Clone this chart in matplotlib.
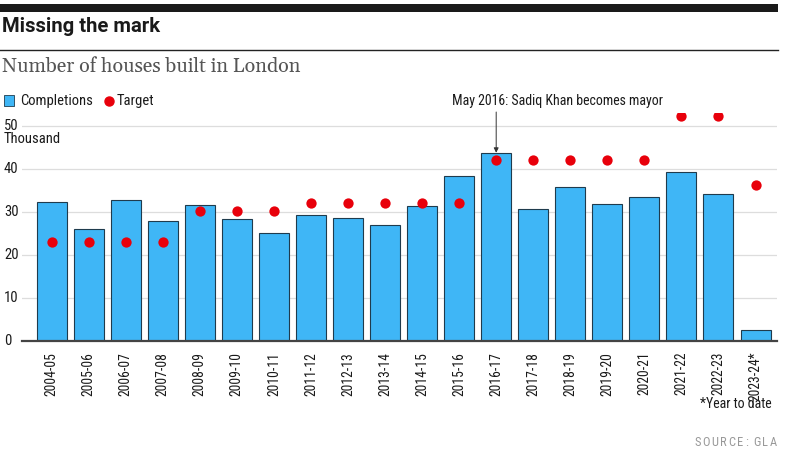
import matplotlib
matplotlib.use("Agg")
import matplotlib.pyplot as plt
from matplotlib import font_manager as fm

years = ["2004-05", "2005-06", "2006-07", "2007-08", "2008-09", "2009-10", "2010-11",
         "2011-12", "2012-13", "2013-14", "2014-15", "2015-16", "2016-17", "2017-18",
         "2018-19", "2019-20", "2020-21", "2021-22", "2022-23", "2023-24*"]
completions = [32.4, 26.0, 32.9, 28.0, 31.7, 28.3, 25.2, 29.4, 28.7, 26.9, 31.3, 38.3,
               43.8, 30.8, 35.9, 31.8, 33.4, 39.3, 34.1, 2.5]
targets = [23.0, 23.0, 23.0, 23.0, 30.3, 30.3, 30.3, 32.2, 32.2, 32.2, 32.2, 32.2,
           42.2, 42.2, 42.2, 42.2, 42.2, 52.3, 52.3, 36.2]
yticks = [0, 10, 20, 30, 40, 50]

fonts = fm.fontManager.ttflist
names = {f.name for f in fonts}

def wnum(w):
    if isinstance(w, (int, float)):
        return w
    return fm.weight_dict.get(w, 400)

def has_bold(n):
    return any(f.name == n and wnum(f.weight) >= 700 and f.style == "normal" for f in fonts)

def pick(prefs, bold=False):
    for p in prefs:
        if p in names and (not bold or has_bold(p)):
            return p
    return "DejaVu Sans"

COND = pick(["Roboto Condensed", "Barlow Condensed", "Archivo Narrow", "PT Sans Narrow",
             "Liberation Sans Narrow"])
TITLE = pick(["Libre Franklin", "Archivo", "Roboto", "Inter"], bold=True)
SERIF = pick(["Gelasio", "Source Serif 4", "Source Serif Pro", "PT Serif", "DejaVu Serif"])

W, H = 786, 455
fig = plt.figure(figsize=(W / 100, H / 100), dpi=100)

def fx(px):
    return px / W

def fy(py):
    return 1 - py / H

# Top black bar and rule
fig.patches.append(plt.Rectangle((0, fy(12)), fx(778), (8 / H), transform=fig.transFigure,
                                 color="#1a1a1a", lw=0))
fig.add_artist(plt.Line2D([0, fx(778)], [fy(50), fy(50)], color="#222222", lw=1.0))

fig.text(fx(2), fy(26), "Missing the mark", fontsize=14.6, fontweight="bold",
         family=TITLE, color="#1a1a1a", va="center", ha="left")
fig.text(fx(2), fy(66), "Number of houses built in London", fontsize=14.2,
         family=SERIF, color="#555555", va="center", ha="left")

# Legend
fig.patches.append(plt.Rectangle((fx(4), fy(106)), fx(10), 11 / H, transform=fig.transFigure,
                                 facecolor="#3fb6f6", edgecolor="#1f3b4d", lw=0.6))
fig.text(fx(20), fy(100.5), "Completions", fontsize=10.5, family=COND, color="#1a1a1a",
         va="center", ha="left")
fig.add_artist(plt.Line2D([fx(109)], [fy(101)], marker="o", markersize=6.5,
                          color="#e8000b", lw=0))
fig.text(fx(117), fy(100.5), "Target", fontsize=10.5, family=COND, color="#1a1a1a",
         va="center", ha="left")

# Axes
left, right, bottom, top = 22, 777, 340.7, 113.3
ax = fig.add_axes([fx(left), fy(bottom), fx(right - left), (bottom - top) / H])
x = list(range(len(years)))
ax.bar(x, completions, width=0.81, color="#3fb6f6", edgecolor="#1f3b4d", lw=0.8, zorder=2)
ax.scatter(x, targets, s=55, color="#e8000b", zorder=3, lw=0)
ax.set_xlim(-0.80, 19.58)
ax.set_ylim(0, 53)
ax.set_yticks(yticks)
ax.yaxis.grid(True, color="#dddddd", lw=0.9, zorder=0)
ax.set_axisbelow(True)
for s in ["top", "right", "left"]:
    ax.spines[s].set_visible(False)
ax.spines["bottom"].set_color("#444444")
ax.spines["bottom"].set_linewidth(1.6)
ax.tick_params(axis="y", length=0, labelleft=False)
ax.set_xticks(x)
ax.set_xticklabels(years, rotation=90, fontsize=9.8, family=COND, color="#1a1a1a")
ax.tick_params(axis="x", length=0, pad=8)

for t in yticks:
    ax.text(-0.80 - 18 / 37.04, t, str(t), fontsize=10.5, family=COND, color="#1a1a1a",
            va="center", ha="left")
fig.text(fx(4), fy(139), "Thousand", fontsize=10.5, family=COND, color="#1a1a1a",
         va="center", ha="left")

# Annotation
ax.annotate("", xy=(12, completions[12]), xytext=(12, 53.3),
            arrowprops=dict(arrowstyle="-|>", color="#333333", lw=0.7,
                            mutation_scale=7, shrinkA=0, shrinkB=0),
            annotation_clip=False)
fig.text(fx(557.5), fy(101.5), "May 2016: Sadiq Khan becomes mayor", fontsize=10,
         family=COND, color="#1a1a1a", va="center", ha="center")

fig.text(fx(772), fy(404), "*Year to date", fontsize=10, family=COND, color="#1a1a1a",
         va="center", ha="right")

# Letter-spaced source line, right aligned at x=777
src = "SOURCE: GLA"
renderer = fig.canvas.get_renderer()
widths = []
for ch in src:
    if ch == " ":
        widths.append(2.5)
        continue
    t = fig.text(0, 0, ch, fontsize=9, family=COND)
    widths.append(t.get_window_extent(renderer).width)
    t.remove()
spacing = 1.6
total = sum(widths) + spacing * (len(src) - 1)
xpos = 777 - total
for ch, w in zip(src, widths):
    if ch != " ":
        fig.text(fx(xpos), fy(442), ch, fontsize=9, family=COND, color="#999999",
                 va="center", ha="left")
    xpos += w + spacing

fig.savefig("out.png", dpi=100)
